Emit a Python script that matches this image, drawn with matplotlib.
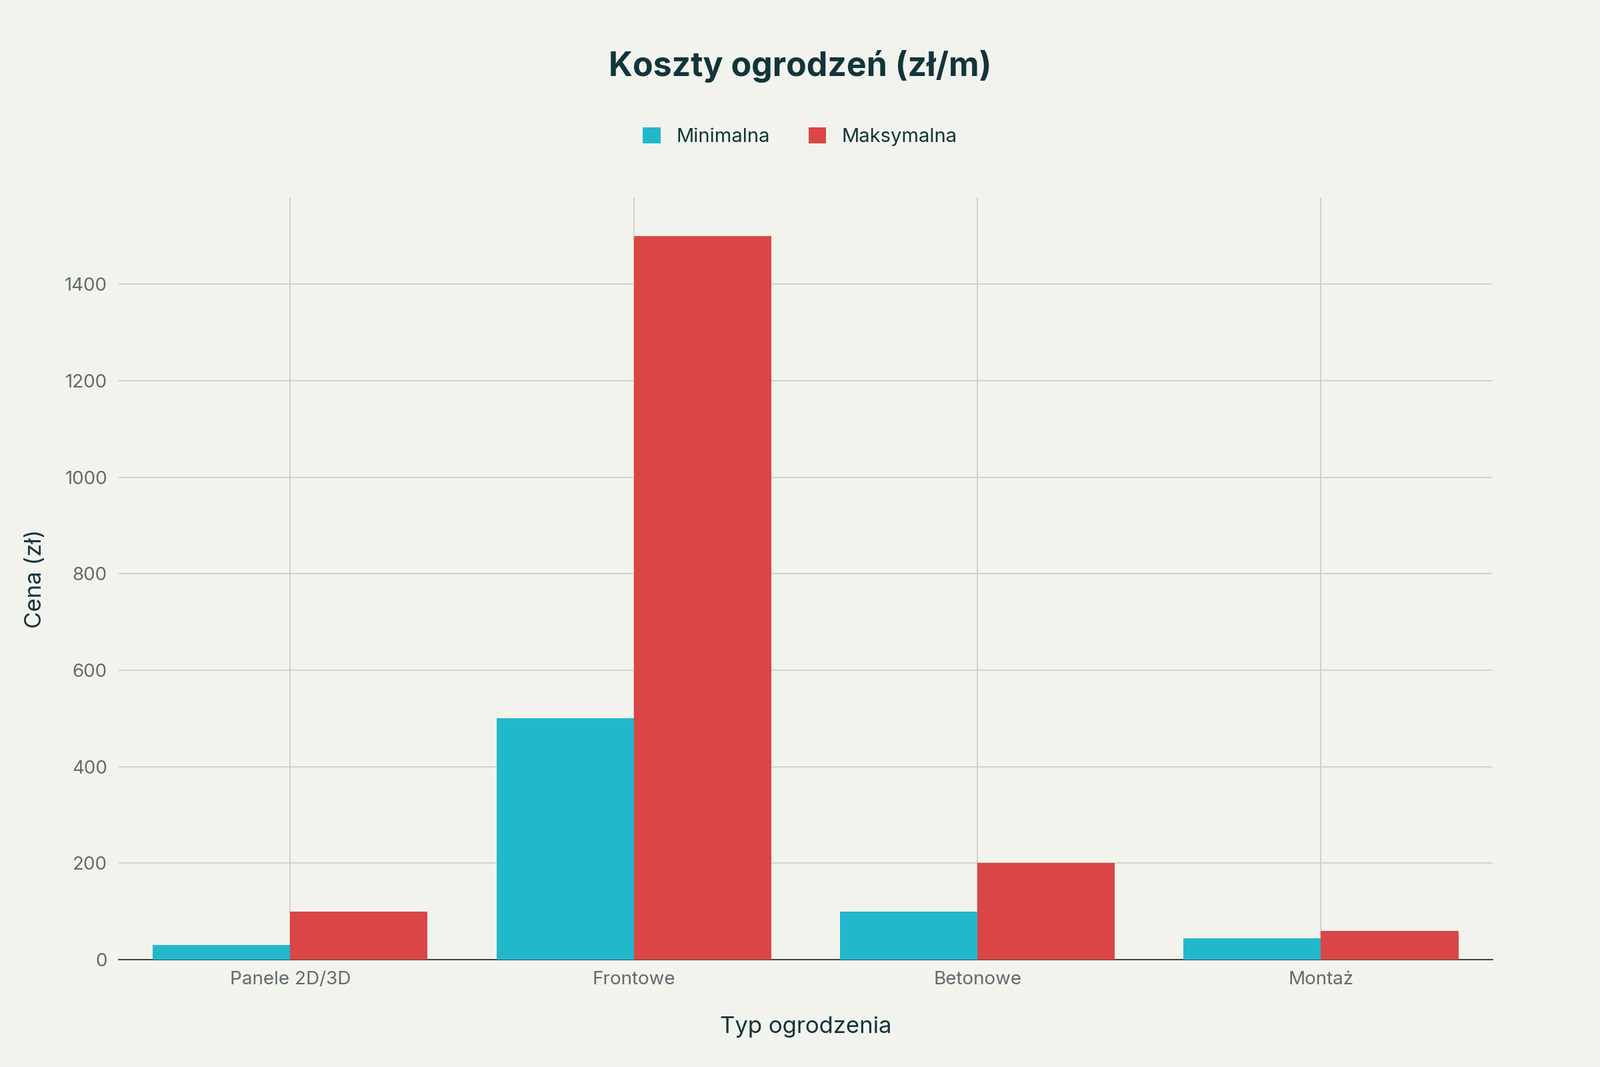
import numpy as np
import matplotlib.pyplot as plt

categories = ["Panele 2D/3D", "Frontowe", "Betonowe", "Montaż"]
min_values = [30, 500, 100, 45]
max_values = [100, 1500, 200, 60]
y_ticks = [0, 200, 400, 600, 800, 1000, 1200, 1400]

plt.rcParams["font.family"] = "Inter"
bg = "#F3F3EE"
dark = "#13343B"

fig = plt.figure(figsize=(24, 16), dpi=100, facecolor=bg)
ax = fig.add_axes([0.074, 0.1005, 0.859, 0.7145], facecolor=bg)

x = np.arange(len(categories))
w = 0.4
ax.bar(x - w / 2, min_values, w, color="#21B8CC", label="Minimalna", zorder=3)
ax.bar(x + w / 2, max_values, w, color="#DB4545", label="Maksymalna", zorder=3)

ax.set_xlim(-0.5, 3.5)
ax.set_ylim(0, 1580)
ax.set_yticks(y_ticks)
ax.set_xticks(x)
ax.set_xticklabels(categories)
ax.grid(True, color="#CFCFCA", linewidth=1.3, zorder=0)
ax.tick_params(axis="both", length=0, labelsize=20, colors="#5F6B6E", pad=12)
for s in ["top", "right", "left"]:
    ax.spines[s].set_visible(False)
ax.spines["bottom"].set_color("#333333")
ax.spines["bottom"].set_linewidth(1.3)

ax.set_xlabel("Typ ogrodzenia", fontsize=25, color=dark, labelpad=30)
ax.set_ylabel("Cena (zł)", fontsize=25, color=dark, labelpad=20)

fig.text(0.5, 0.938, "Koszty ogrodzeń (zł/m)", ha="center", va="center",
         fontsize=36, fontweight="bold", color=dark)
fig.legend(loc="center", bbox_to_anchor=(0.5, 0.872), ncol=2, frameon=False,
           fontsize=21, handlelength=0.9, handleheight=0.9, columnspacing=2.0,
           labelcolor=dark)

fig.savefig("out.png", dpi=100, facecolor=bg)
